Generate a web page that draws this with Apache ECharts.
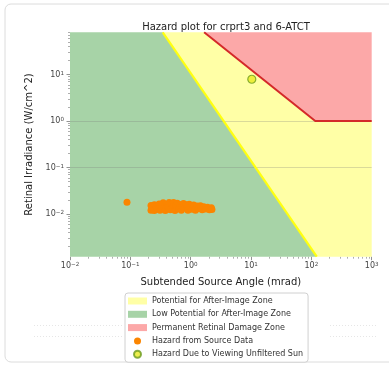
<!DOCTYPE html>
<html>
<head>
<meta charset="utf-8">
<script src="https://cdn.jsdelivr.net/npm/echarts@6/dist/echarts.min.js"></script>
<style>
  html, body { margin: 0; padding: 0; background: #fff; }
  #chart { width: 389px; height: 374px; }
</style>
</head>
<body>
<div id="chart"></div>
<script>
// axis limits: subtended angle (mrad) and retinal irradiance (W/cm^2)
const xLimits = [0.01, 1000];
const yLimits = [0.00121, 80.7];
const xMajorTicks = [0.01, 0.1, 1, 10, 100, 1000];
const yMajorTicks = [0.01, 0.1, 1, 10];
const minorSteps = [2, 3, 4, 5, 6, 7, 8, 9];

// zone boundaries
const afterImageEdge = [[0.344, 80.7], [123, 0.00121]];
const burnEdge = [[1.67, 80.7], [116, 1], [1000, 1]];

// source measurements
const sourceAngle = [
  0.088,
  0.22, 0.22, 0.23, 0.25, 0.25, 0.27, 0.28, 0.30, 0.31, 0.33,
  0.35, 0.36, 0.38, 0.40, 0.42, 0.44, 0.46, 0.48, 0.50, 0.52,
  0.55, 0.57, 0.60, 0.63, 0.66, 0.70, 0.72, 0.76, 0.80, 0.85,
  0.90, 0.95, 1.00, 1.05, 1.12, 1.20, 1.28, 1.35, 1.45, 1.55,
  1.65, 1.78, 1.90, 2.05, 2.20, 2.25
];
const sourceIrradiance = [
  0.0180,
  0.0152, 0.0121, 0.0136, 0.0158, 0.0119, 0.0143, 0.0128, 0.0165, 0.0120, 0.0150,
  0.0174, 0.0134, 0.0119, 0.0160, 0.0145, 0.0178, 0.0124, 0.0166, 0.0139, 0.0176,
  0.0119, 0.0152, 0.0170, 0.0130, 0.0160, 0.0120, 0.0147, 0.0168, 0.0135, 0.0158,
  0.0121, 0.0163, 0.0143, 0.0127, 0.0156, 0.0120, 0.0149, 0.0132, 0.0151, 0.0123,
  0.0143, 0.0128, 0.0140, 0.0124, 0.0136, 0.0125
];
const sunPoint = [10.3, 7.9];

const legendNames = [
  'Potential for After-Image Zone',
  'Low Potential for After-Image Zone',
  'Permanent Retinal Damage Zone',
  'Hazard from Source Data',
  'Hazard Due to Viewing Unfiltered Sun'
];

const FONT = 'DejaVu Sans';
const [xMin, xMax] = xLimits;
const [yMin, yMax] = yLimits;

const minorOf = majors => {
  const out = [];
  majors.forEach(m => minorSteps.forEach(s => out.push(m * s)));
  return out;
};
const xMinorTicks = minorOf([0.01, 0.1, 1, 10, 100]);
const yMinorTicks = minorOf([0.001, 0.01, 0.1, 1, 10]).filter(v => v >= yMin && v <= yMax);

const powLabel = v => {
  const e = Math.round(Math.log10(v));
  return '{b|10}{s|' + (e < 0 ? '\u2212' + (-e) : e) + '}';
};
const labelRich = {
  b: { fontSize: 8, color: '#444', fontFamily: FONT },
  s: { fontSize: 5.6, color: '#444', fontFamily: FONT, verticalAlign: 'top' }
};

const greenZone = [[xMin, yMin], [xMin, yMax], afterImageEdge[0], afterImageEdge[1]];
const yellowZone = [afterImageEdge[0], burnEdge[0], burnEdge[1], burnEdge[2], [xMax, yMin], afterImageEdge[1]];
const redZone = [burnEdge[0], [xMax, yMax], burnEdge[2], burnEdge[1]];

function zone(name, color, pts) {
  return {
    name, type: 'custom', z: 1, silent: true,
    itemStyle: { color },
    data: pts,
    renderItem: (params, api) => {
      if (params.dataIndex !== 0) return;
      return {
        type: 'polygon',
        shape: { points: pts.map(p => api.coord(p)) },
        style: { fill: color }
      };
    }
  };
}

const gridBox = { left: 70, top: 32.3, width: 301.7, height: 224.4 };
const tickColor = '#777';
const faint = { stroke: '#e6e6e6', lineWidth: 1, lineDash: [1, 2] };

const chart = echarts.init(document.getElementById('chart'), null, { renderer: 'canvas' });
chart.setOption({
  animation: false,
  backgroundColor: '#fff',
  graphic: [
    {
      type: 'rect', z: -10,
      shape: { x: 5, y: 4, width: 420, height: 358, r: 6 },
      style: { fill: 'none', stroke: '#dcdcdc', lineWidth: 1 }
    },
    { type: 'line', z: -10, shape: { x1: 34, y1: 325.5, x2: 122, y2: 325.5 }, style: faint },
    { type: 'line', z: -10, shape: { x1: 34, y1: 336.5, x2: 122, y2: 336.5 }, style: faint },
    { type: 'line', z: -10, shape: { x1: 330, y1: 325.5, x2: 378, y2: 325.5 }, style: faint },
    { type: 'line', z: -10, shape: { x1: 330, y1: 336.5, x2: 378, y2: 336.5 }, style: faint }
  ],
  title: {
    text: 'Hazard plot for crprt3 and 6-ATCT',
    left: 221, top: 17, textAlign: 'center',
    textStyle: { fontFamily: FONT, fontSize: 10, fontWeight: 'normal', color: '#222' }
  },
  legend: {
    orient: 'vertical', left: 125, top: 293,
    padding: [3, 5, 3, 3], itemGap: 3.3, itemWidth: 19, itemHeight: 7,
    backgroundColor: '#fff', borderColor: '#d0d0d0', borderWidth: 1, borderRadius: 3,
    textStyle: { fontFamily: FONT, fontSize: 8, color: '#333', lineHeight: 10 },
    data: [
      { name: legendNames[0], icon: 'rect' },
      { name: legendNames[1], icon: 'rect' },
      { name: legendNames[2], icon: 'rect' },
      { name: legendNames[3], icon: 'circle' },
      { name: legendNames[4], icon: 'circle' }
    ]
  },
  grid: [Object.assign({}, gridBox), Object.assign({}, gridBox)],
  xAxis: [{
    type: 'log', logBase: 10, min: xMin, max: xMax, gridIndex: 0,
    name: 'Subtended Source Angle (mrad)', nameLocation: 'middle', nameGap: 21,
    nameTextStyle: { fontFamily: FONT, fontSize: 10, color: '#222' },
    axisLine: { show: false },
    axisTick: { show: true, customValues: xMajorTicks, length: 3.5, lineStyle: { color: tickColor, width: 0.8 } },
    axisLabel: { customValues: xMajorTicks, margin: 5, formatter: powLabel, rich: labelRich },
    splitLine: { show: false }
  }, {
    type: 'log', logBase: 10, min: xMin, max: xMax, gridIndex: 1,
    axisLine: { show: false }, axisLabel: { show: false }, splitLine: { show: false },
    axisTick: { show: true, customValues: xMinorTicks, length: 2, lineStyle: { color: tickColor, width: 0.6 } }
  }],
  yAxis: [{
    type: 'log', logBase: 10, min: yMin, max: yMax, gridIndex: 0, z: 2,
    name: 'Retinal Irradiance (W/cm^2)', nameLocation: 'middle', nameGap: 28, nameRotate: 90,
    nameTextStyle: { fontFamily: FONT, fontSize: 10, color: '#222' },
    axisLine: { show: false },
    axisTick: { show: true, customValues: yMajorTicks, length: 3.5, lineStyle: { color: tickColor, width: 0.8 } },
    axisLabel: { customValues: yMajorTicks, margin: 6, formatter: powLabel, rich: labelRich },
    splitLine: {
      show: true, showMinLine: false, showMaxLine: false,
      lineStyle: { color: 'rgba(120,120,120,0.35)', width: 0.8 }
    }
  }, {
    type: 'log', logBase: 10, min: yMin, max: yMax, gridIndex: 1,
    axisLine: { show: false }, axisLabel: { show: false }, splitLine: { show: false },
    axisTick: { show: true, customValues: yMinorTicks, length: 2, lineStyle: { color: tickColor, width: 0.6 } }
  }],
  series: [
    zone(legendNames[1], '#a7d3a7', greenZone),
    zone(legendNames[0], '#ffffa6', yellowZone),
    zone(legendNames[2], '#fca8a8', redZone),
    {
      type: 'line', z: 3, silent: true, symbol: 'none',
      data: afterImageEdge,
      lineStyle: { color: '#ffff10', width: 2.2 }
    },
    {
      type: 'line', z: 3, silent: true, symbol: 'none',
      data: burnEdge,
      lineStyle: { color: '#d42a2a', width: 2 }
    },
    {
      name: legendNames[3], type: 'scatter', z: 4, symbolSize: 7,
      itemStyle: { color: '#fb8500', opacity: 1 },
      data: sourceAngle.map((a, i) => [a, sourceIrradiance[i]])
    },
    {
      name: legendNames[4], type: 'scatter', z: 5, symbolSize: 8,
      itemStyle: { color: '#e8ea22', borderColor: '#6a9a20', borderWidth: 1.2 },
      data: [sunPoint]
    }
  ]
});
</script>
</body>
</html>
